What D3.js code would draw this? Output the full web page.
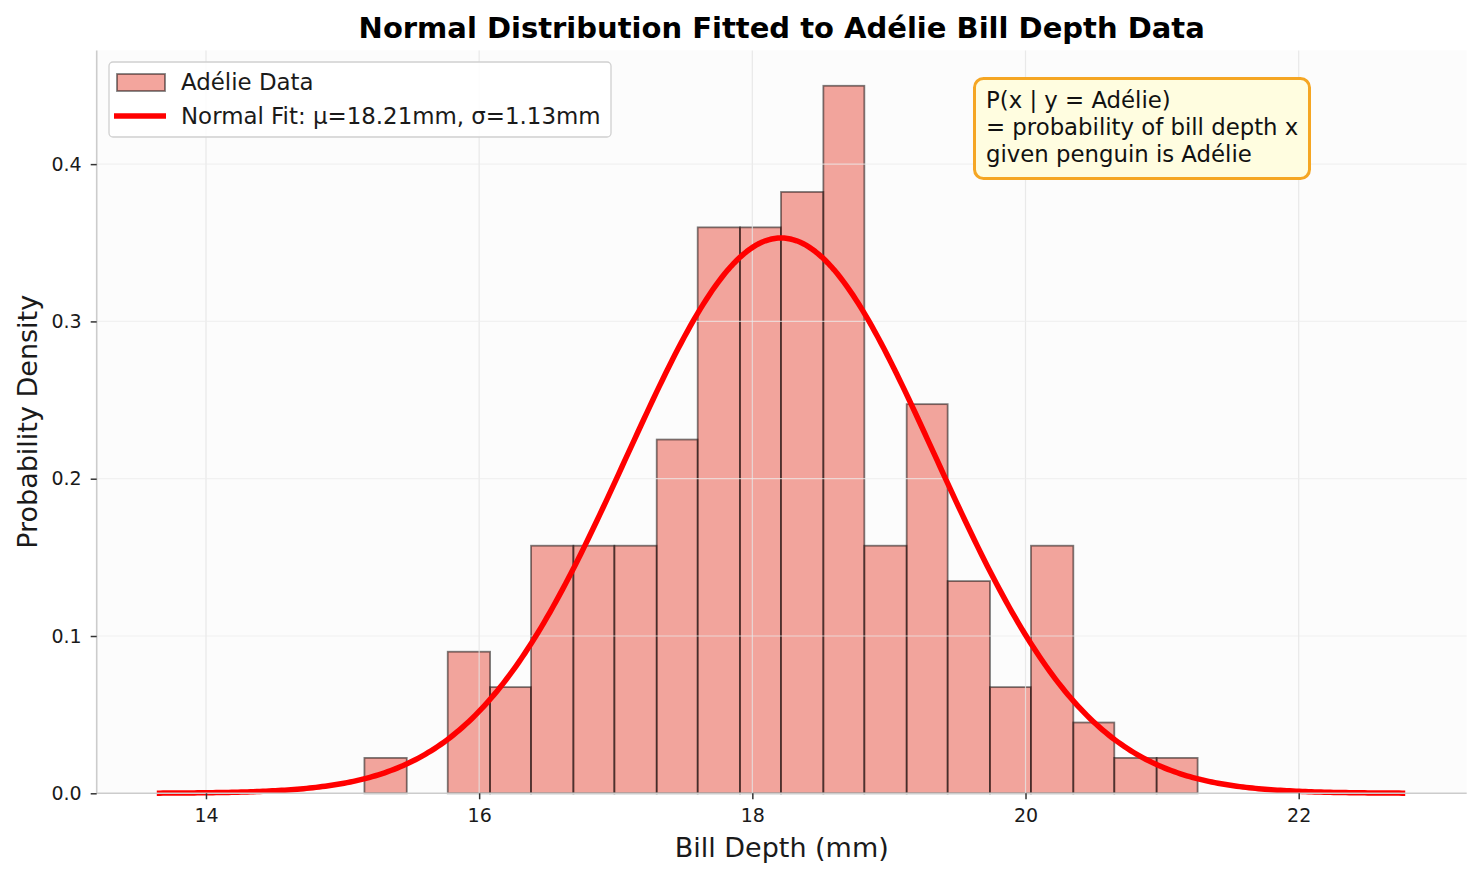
<!DOCTYPE html>
<html>
<head>
<meta charset="utf-8">
<script src="https://cdn.jsdelivr.net/npm/d3@7"></script>
<style>
  html, body { margin: 0; padding: 0; background: #ffffff; }
  svg { display: block; font-family: "DejaVu Sans", sans-serif; }
</style>
</head>
<body>
<svg id="chart" width="1479" height="878"></svg>
<script>
// ---- data ----
const binEdges = [15.16, 15.47, 15.77, 16.08, 16.38, 16.69, 16.99, 17.30, 17.60, 17.91,
                  18.21, 18.52, 18.82, 19.13, 19.43, 19.74, 20.04, 20.35, 20.65, 20.96, 21.26];
const densities = [0.0225, 0.0, 0.0900, 0.0675, 0.1574, 0.1574, 0.1574, 0.2249, 0.3598, 0.3598,
                   0.3823, 0.4498, 0.1574, 0.2474, 0.1349, 0.0675, 0.1574, 0.0450, 0.0225, 0.0225];
const fitMu = 18.21;
const fitSigma = 1.13;
const curveRange = [13.64, 22.78];
const xTicks = [14, 16, 18, 20, 22];
const yTicks = [0.0, 0.1, 0.2, 0.3, 0.4];
const xDomain = [13.20, 23.23];
const yDomain = [0, 0.4723];
const titleText = "Normal Distribution Fitted to Adélie Bill Depth Data";
const xLabel = "Bill Depth (mm)";
const yLabel = "Probability Density";
const legendLabels = ["Adélie Data", "Normal Fit: μ=18.21mm, σ=1.13mm"];
const noteLines = ["P(x | y = Adélie)", "= probability of bill depth x", "given penguin is Adélie"];

// ---- layout ----
const L = 96.7, R = 1466.7, T = 50.4, B = 793.3;
const svg = d3.select("#chart");
const x = d3.scaleLinear().domain(xDomain).range([L, R]);
const y = d3.scaleLinear().domain(yDomain).range([B, T]);

// plot background
svg.append("rect").attr("x", L).attr("y", T).attr("width", R - L).attr("height", B - T)
  .attr("fill", "#fcfcfc");

// bars
const bins = densities.map((d, i) => ({x0: binEdges[i], x1: binEdges[i + 1], d}));
svg.append("g").selectAll("rect").data(bins.filter(b => b.d > 0)).join("rect")
  .attr("x", b => x(b.x0))
  .attr("y", b => y(b.d))
  .attr("width", b => x(b.x1) - x(b.x0))
  .attr("height", b => y(0) - y(b.d))
  .attr("fill", "#e74c3c").attr("fill-opacity", 0.5)
  .attr("stroke", "#000").attr("stroke-opacity", 0.5).attr("stroke-width", 1.8);

// grid (above patches, below lines)
const grid = svg.append("g");
grid.selectAll("line.gx").data(xTicks).join("line").attr("class", "gx")
  .attr("x1", d => x(d)).attr("x2", d => x(d)).attr("y1", T).attr("y2", B)
  .attr("stroke", "#e4e4e4").attr("stroke-width", 1.2).attr("stroke-opacity", 0.8);
grid.selectAll("line.gy").data(yTicks.slice(1)).join("line").attr("class", "gy")
  .attr("x1", L).attr("x2", R).attr("y1", d => y(d)).attr("y2", d => y(d))
  .attr("stroke", "#ececec").attr("stroke-width", 1.2).attr("stroke-opacity", 0.7);

// normal fit curve
const pdf = v => Math.exp(-0.5 * Math.pow((v - fitMu) / fitSigma, 2)) / (fitSigma * Math.sqrt(2 * Math.PI));
const xs = d3.range(0, 401).map(i => curveRange[0] + (curveRange[1] - curveRange[0]) * i / 400);
svg.append("path").datum(xs)
  .attr("d", d3.line().x(v => x(v)).y(v => y(pdf(v))))
  .attr("fill", "none").attr("stroke", "#ff0000").attr("stroke-width", 5.5)
  .attr("stroke-linejoin", "round");

// spines
svg.append("line").attr("x1", L).attr("x2", L).attr("y1", T).attr("y2", B)
  .attr("stroke", "#cccccc").attr("stroke-width", 1.6);
svg.append("line").attr("x1", L).attr("x2", R).attr("y1", B).attr("y2", B)
  .attr("stroke", "#cccccc").attr("stroke-width", 1.6);

// axes (ticks + labels) via d3 axes
const xAxis = svg.append("g").attr("transform", `translate(0,${B})`)
  .call(d3.axisBottom(x).tickValues(xTicks).tickFormat(d3.format("d")).tickSize(6).tickPadding(9));
const yAxis = svg.append("g").attr("transform", `translate(${L},0)`)
  .call(d3.axisLeft(y).tickValues(yTicks).tickFormat(d3.format(".1f")).tickSize(6).tickPadding(9));
[xAxis, yAxis].forEach(a => {
  a.select(".domain").remove();
  a.selectAll(".tick line").attr("stroke", "#333").attr("stroke-width", 1.5);
  a.selectAll(".tick text").attr("fill", "#1a1a1a").attr("font-size", 19)
    .attr("font-family", "DejaVu Sans");
});

// titles
svg.append("text").attr("x", (L + R) / 2).attr("y", 38).attr("text-anchor", "middle")
  .attr("font-size", 29).attr("font-weight", "bold").attr("fill", "#000").text(titleText);
svg.append("text").attr("x", (L + R) / 2).attr("y", 857).attr("text-anchor", "middle")
  .attr("font-size", 27).attr("fill", "#1a1a1a").text(xLabel);
svg.append("text").attr("transform", `translate(37,${(T + B) / 2}) rotate(-90)`)
  .attr("text-anchor", "middle").attr("font-size", 27).attr("fill", "#1a1a1a").text(yLabel);

// legend
const lg = svg.append("g");
lg.append("rect").attr("x", 109).attr("y", 62).attr("width", 502).attr("height", 75).attr("rx", 4)
  .attr("fill", "#ffffff").attr("fill-opacity", 0.85).attr("stroke", "#d0d0d0").attr("stroke-width", 1.3);
lg.append("rect").attr("x", 117).attr("y", 74).attr("width", 48).attr("height", 17)
  .attr("fill", "#e74c3c").attr("fill-opacity", 0.5)
  .attr("stroke", "#000").attr("stroke-opacity", 0.5).attr("stroke-width", 1.8);
lg.append("line").attr("x1", 114).attr("x2", 166).attr("y1", 116).attr("y2", 116)
  .attr("stroke", "#ff0000").attr("stroke-width", 5.5);
lg.selectAll("text").data(legendLabels).join("text")
  .attr("x", 181).attr("y", (d, i) => 90 + i * 34)
  .attr("font-size", 22.9).attr("fill", "#1a1a1a").text(d => d);

// annotation box
const ann = svg.append("g");
ann.append("rect").attr("x", 974.5).attr("y", 78.5).attr("width", 335).attr("height", 100).attr("rx", 9)
  .attr("fill", "#fffde0").attr("stroke", "#f5a623").attr("stroke-width", 3);
ann.selectAll("text").data(noteLines).join("text")
  .attr("x", 986).attr("y", (d, i) => 108 + i * 27)
  .attr("font-size", 22.8).attr("fill", "#111").text(d => d);
</script>
</body>
</html>
